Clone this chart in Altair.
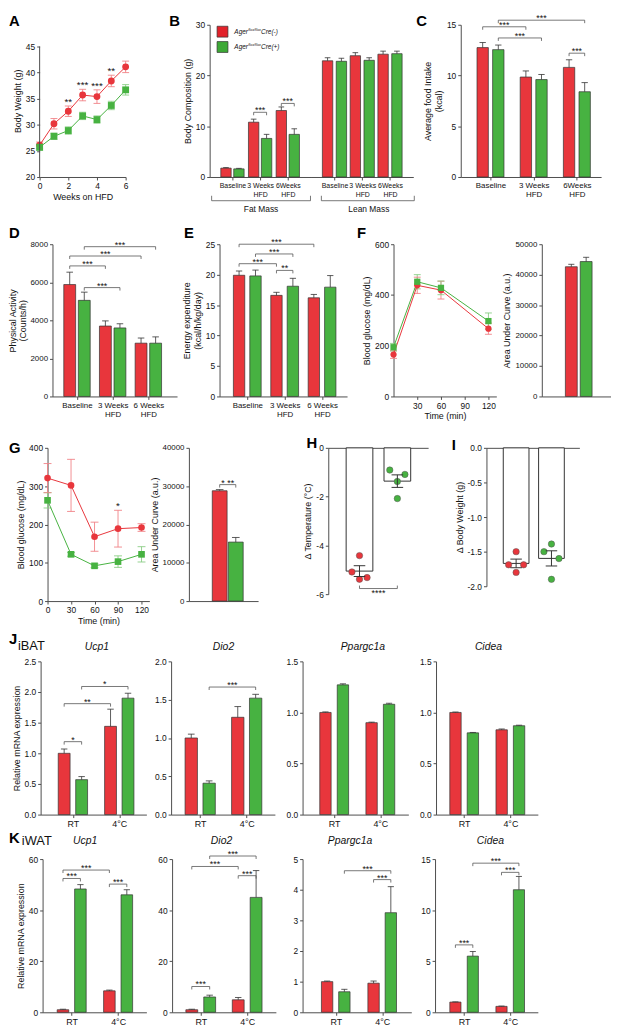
import json
import altair as alt
import pandas as pd

FONT = "Liberation Sans"
RED = "#e2222a"
RED_LIGHT = "#e9494f"
GREEN = "#3da936"
RED_LINE = "#e8363c"
GREEN_LINE = "#47b241"
RED_ERR = "#f08286"
GREEN_ERR = "#8acd84"
RED_DOT = "#ee1c25"
GREEN_DOT = "#2fb32f"
INK = "#333333"
BRK = "#555555"
AXC = "#4d4d4d"
GENO = ["Cre(-)", "Cre(+)"]

# ---------------- data ----------------
a_weeks = [0, 1, 2, 3, 4, 5, 6]
a_red = [26.1, 30.2, 32.6, 35.7, 35.4, 38.4, 41.1]
a_red_err = [0.6, 1.0, 1.0, 1.1, 1.3, 1.1, 1.1]
a_green = [25.7, 27.8, 28.9, 31.7, 31.0, 33.7, 36.7]
a_green_err = [0.6, 0.6, 0.7, 0.7, 0.7, 0.8, 1.0]
a_stars = ["", "", "**", "***", "***", "**", ""]

b_groups = ["Baseline", "3 Weeks|HFD", "6Weeks|HFD"]
b_fat_red = [1.75, 10.8, 13.1]
b_fat_red_err = [0.1, 0.6, 0.7]
b_fat_green = [1.6, 7.6, 8.4]
b_fat_green_err = [0.1, 0.8, 1.1]
b_lean_red = [22.9, 23.9, 24.2]
b_lean_red_err = [0.6, 0.6, 0.6]
b_lean_green = [22.8, 23.0, 24.3]
b_lean_green_err = [0.6, 0.5, 0.5]
b_fat_brackets = [("3 Weeks|HFD", "Cre(-)", "3 Weeks|HFD", "Cre(+)", 12.75, "***"),
                  ("6Weeks|HFD", "Cre(-)", "6Weeks|HFD", "Cre(+)", 14.5, "***")]

c_groups = ["Baseline", "3 Weeks|HFD", "6Weeks|HFD"]
c_red = [12.75, 9.85, 10.8]
c_red_err = [0.5, 0.6, 0.75]
c_green = [12.55, 9.6, 8.4]
c_green_err = [0.45, 0.5, 0.9]
c_brackets = [("Baseline", "Cre(+)", "6Weeks|HFD", "Cre(+)", 15.45, "***"),
              ("Baseline", "Cre(-)", "3 Weeks|HFD", "Cre(-)", 14.8, "***"),
              ("Baseline", "Cre(+)", "3 Weeks|HFD", "Cre(+)", 13.7, "***"),
              ("6Weeks|HFD", "Cre(-)", "6Weeks|HFD", "Cre(+)", 12.2, "***")]

d_groups = ["Baseline", "3 Weeks|HFD", "6 Weeks|HFD"]
d_red = [5880, 3700, 2800]
d_red_err = [650, 270, 270]
d_green = [5050, 3600, 2800]
d_green_err = [430, 220, 330]
d_brackets = [("Baseline", "Cre(+)", "6 Weeks|HFD", "Cre(+)", 7870, "***"),
              ("Baseline", "Cre(-)", "6 Weeks|HFD", "Cre(-)", 7380, "***"),
              ("Baseline", "Cre(-)", "3 Weeks|HFD", "Cre(-)", 6860, "***"),
              ("Baseline", "Cre(+)", "3 Weeks|HFD", "Cre(+)", 5720, "***")]

e_groups = ["Baseline", "3 Weeks|HFD", "6 Weeks|HFD"]
e_red = [19.9, 16.6, 16.2]
e_red_err = [0.7, 0.5, 0.55]
e_green = [19.8, 18.1, 17.95]
e_green_err = [0.95, 1.3, 1.9]
e_brackets = [("Baseline", "Cre(-)", "6 Weeks|HFD", "Cre(-)", 25.0, "***"),
              ("Baseline", "Cre(+)", "3 Weeks|HFD", "Cre(+)", 23.4, "***"),
              ("Baseline", "Cre(-)", "3 Weeks|HFD", "Cre(-)", 21.8, "***"),
              ("3 Weeks|HFD", "Cre(-)", "3 Weeks|HFD", "Cre(+)", 20.7, "**")]

f_time = [0, 30, 60, 120]
f_red = [165, 438, 419, 267]
f_red_err = [15, 32, 35, 22]
f_green = [194, 452, 428, 297]
f_green_err = [15, 28, 27, 32]
f_auc = [42600, 44300]
f_auc_err = [800, 1400]

g_time = [0, 30, 60, 90, 120]
g_red = [321, 302, 168, 189, 192]
g_red_err = [38, 68, 38, 48, 10]
g_green = [263, 122, 92, 103, 122]
g_green_err = [20, 5, 5, 15, 20]
g_stars = ["", "", "", "*", ""]
g_auc = [28800, 15400]
g_auc_err = [300, 1200]
g_auc_brackets = [("", "Cre(-)", "", "Cre(+)", 30400, "* **")]

h_red_dots = [-4.42, -5.09, -5.32, -5.39]
h_green_dots = [-0.91, -1.09, -1.38, -2.08]
i_red_dots = [-1.50, -1.69, -1.69, -1.80]
i_green_dots = [-1.39, -1.50, -1.60, -1.90]

conditions = ["RT", "4°C"]
j_ucp1 = ([1.00, 1.44], [0.07, 0.28], [0.57, 1.90], [0.05, 0.08])
j_dio2 = ([1.00, 1.27], [0.05, 0.14], [0.41, 1.52], [0.03, 0.05])
j_ppargc1a = ([1.00, 0.90], [0.005, 0.005], [1.27, 1.08], [0.01, 0.01])
j_cidea = ([1.00, 0.83], [0.004, 0.008], [0.80, 0.87], [0.004, 0.005])
j_ucp1_br = [("RT", "Cre(-)", "RT", "Cre(+)", 1.19, "*"),
             ("RT", "Cre(-)", "4°C", "Cre(-)", 1.81, "**"),
             ("RT", "Cre(+)", "4°C", "Cre(+)", 2.09, "*")]
j_dio2_br = [("RT", "Cre(+)", "4°C", "Cre(+)", 1.665, "***")]

k_ucp1 = ([1.0, 8.4], [0.2, 0.3], [48.3, 46.0], [1.7, 2.0])
k_dio2 = ([1.0, 4.9], [0.2, 0.9], [6.0, 45.0], [0.7, 10.5])
k_ppargc1a = ([1.0, 0.95], [0.02, 0.07], [0.67, 3.25], [0.08, 0.85])
k_cidea = ([1.0, 0.58], [0.02, 0.03], [5.5, 12.0], [0.45, 1.3])
k_ucp1_br = [("RT", "Cre(-)", "4°C", "Cre(-)", 55.7, "***"),
             ("RT", "Cre(-)", "RT", "Cre(+)", 52.4, "***"),
             ("4°C", "Cre(-)", "4°C", "Cre(+)", 50.2, "***")]
k_dio2_br = [("RT", "Cre(+)", "4°C", "Cre(+)", 61.2, "***"),
             ("RT", "Cre(-)", "4°C", "Cre(-)", 57.1, "***"),
             ("4°C", "Cre(-)", "4°C", "Cre(+)", 53.5, "***"),
             ("RT", "Cre(-)", "RT", "Cre(+)", 10.1, "***")]
k_ppargc1a_br = [("RT", "Cre(+)", "4°C", "Cre(+)", 4.62, "***"),
                 ("4°C", "Cre(-)", "4°C", "Cre(+)", 4.33, "***")]
k_cidea_br = [("RT", "Cre(+)", "4°C", "Cre(+)", 14.6, "***"),
              ("4°C", "Cre(-)", "4°C", "Cre(+)", 13.7, "***"),
              ("RT", "Cre(-)", "RT", "Cre(+)", 6.6, "***")]


# ---------------- helpers ----------------
def one():
    return pd.DataFrame({"z": [0]})


def txt(s, x, y, size=9, weight="normal", style="normal", align="center", baseline="middle", color="#111111"):
    return alt.Chart(pd.DataFrame({"t": [s]})).mark_text(
        fontSize=size, fontWeight=weight, fontStyle=style, align=align, baseline=baseline,
        color=color, font=FONT).encode(text="t:N", x=alt.value(x), y=alt.value(y))


def letter(s, x, y):
    return txt(s, x, y, size=15, weight="bold", align="left", baseline="top", color="black")


def prule(x, x2, y, y2, color=BRK):
    return alt.Chart(one()).mark_rule(color=color, strokeWidth=0.8).encode(
        x=alt.value(x), x2=alt.value(x2), y=alt.value(y), y2=alt.value(y2))


def spacer(w, h=10, top=0, bottom=0):
    return alt.Chart(one()).mark_rule(opacity=0, strokeOpacity=0).encode(
        x=alt.value(0), y=alt.value(-top), y2=alt.value(h + bottom)).properties(width=w, height=h)


def yaxis(vals, title, fmt="d", size=8.5, hyphen=False, domain=True, title_pad=3):
    kw = dict(values=vals, title=title, labelFontSize=size, titlePadding=title_pad)
    if hyphen:
        kw["labelExpr"] = "replace(format(datum.value, '%s'), '\u2212', '-')" % fmt
    else:
        kw["format"] = fmt
    if not domain:
        kw["domain"] = False
    return alt.Axis(**kw)


def posx(groups, gf, kf, offu):
    garr = json.dumps(groups, ensure_ascii=False)
    return f"indexof({garr}, datum.{gf}) + (datum.{kf} === 'Cre(-)' ? {-offu} : {offu})"


def bracket_layers(brackets, groups, offu, X, Y, tick_u, below=False, size=9):
    bdf = pd.DataFrame(brackets, columns=["g1", "k1", "g2", "k2", "y", "label"])
    sign = "+" if below else "-"
    bb = (alt.Chart(bdf)
          .transform_calculate(p1=posx(groups, "g1", "k1", offu))
          .transform_calculate(p2=posx(groups, "g2", "k2", offu))
          .transform_calculate(pm="(datum.p1 + datum.p2) / 2")
          .transform_calculate(ylo=f"datum.y {sign} {tick_u}"))
    h = bb.mark_rule(color=BRK, strokeWidth=0.8).encode(x=X("p1:Q"), x2="p2:Q", y=Y("y:Q"))
    l = bb.mark_rule(color=BRK, strokeWidth=0.8).encode(x=X("p1:Q"), y=Y("y:Q"), y2="ylo:Q")
    r = bb.mark_rule(color=BRK, strokeWidth=0.8).encode(x=X("p2:Q"), y=Y("y:Q"), y2="ylo:Q")
    if below:
        t = bb.mark_text(fontSize=size, baseline="top", dy=1, font=FONT, color="#111111").encode(
            x=X("pm:Q"), y=Y("y:Q"), text="label:N")
    else:
        t = bb.mark_text(fontSize=size, baseline="middle", dy=-2, font=FONT, color="#111111").encode(
            x=X("pm:Q"), y=Y("y:Q"), text="label:N")
    return [h, l, r, t]


def bar_panel(groups, red, red_err, green, green_err, W, H, c0, step, off, bw, ydom, yvals,
              ytitle=None, yfmt="d", brackets=(), xshow=True, yshow=True, xlabel_size=8,
              shade=None, extras=(), ylabel_size=8.5, title_pad=3):
    lo = -c0 / step
    hi = (W - c0) / step
    offu = off / step
    capu = 0.3 * bw / step
    rows = []
    for gi, g in enumerate(groups):
        rows.append(dict(group=g, geno=GENO[0], value=red[gi], err=red_err[gi]))
        rows.append(dict(group=g, geno=GENO[1], value=green[gi], err=green_err[gi]))
    df = pd.DataFrame(rows)
    if shade:
        ckey = "(datum.group === %s && datum.geno === 'Cre(-)') ? 'Cre(-)*' : datum.geno" % json.dumps(shade)
    else:
        ckey = "datum.geno"
    base = (alt.Chart(df)
            .transform_calculate(pos=posx(groups, "group", "geno", offu))
            .transform_calculate(top="datum.value + datum.err", ckey=ckey)
            .transform_calculate(cl=f"datum.pos - {capu}", cr=f"datum.pos + {capu}"))
    xs = alt.Scale(domain=[lo, hi], nice=False, zero=False)
    ys = alt.Scale(domain=ydom, nice=False, zero=False)
    if xshow:
        arr = json.dumps(groups, ensure_ascii=False)
        xax = alt.Axis(values=list(range(len(groups))), title=None, labelFontSize=xlabel_size,
                       labelExpr=f"split({arr}[round(datum.value)], '|')", labelLineHeight=9)
    else:
        xax = alt.Axis(labels=False, ticks=False, title=None)
    yax = yaxis(yvals, ytitle, yfmt, size=ylabel_size, title_pad=title_pad) if yshow else None
    cscale = alt.Scale(domain=GENO + ["Cre(-)*"], range=[RED, GREEN, RED_LIGHT])
    X = lambda f: alt.X(f, scale=xs, axis=xax)
    Y = lambda f: alt.Y(f, scale=ys, axis=yax)
    bars = base.mark_bar(width=bw, stroke=INK, strokeWidth=0.7, orient="vertical").encode(
        x=X("pos:Q"), y=Y("value:Q"), y2=alt.datum(0),
        color=alt.Color("ckey:N", scale=cscale, legend=None))
    err = base.mark_rule(color=INK, strokeWidth=0.8).encode(x=X("pos:Q"), y=Y("value:Q"), y2="top:Q")
    cap = base.mark_rule(color=INK, strokeWidth=0.8).encode(x=X("cl:Q"), x2="cr:Q", y=Y("top:Q"))
    layers = [bars, err, cap]
    if brackets:
        tick_u = 3 * (ydom[1] - ydom[0]) / H
        layers += bracket_layers(brackets, groups, offu, X, Y, tick_u)
    layers += list(extras)
    return alt.layer(*layers).properties(width=W, height=H)


def line_panel(times, red, red_err, green, green_err, W, H, xdom, xvals, ydom, yvals, xtitle, ytitle,
               stars=None, axis_span=None, psize=40, cap_px=3.5, extras=()):
    rows = []
    for i, t in enumerate(times):
        rows.append({"time": t, "geno": GENO[0], "value": red[i], "err": red_err[i],
                     "star": stars[i] if stars else ""})
        rows.append({"time": t, "geno": GENO[1], "value": green[i], "err": green_err[i], "star": ""})
    df = pd.DataFrame(rows)
    capu = cap_px * (xdom[1] - xdom[0]) / W
    base = (alt.Chart(df)
            .transform_calculate(lo="datum.value - datum.err", hi="datum.value + datum.err")
            .transform_calculate(cl=f"datum.time - {capu}", cr=f"datum.time + {capu}"))
    xs = alt.Scale(domain=xdom, nice=False, zero=False)
    ys = alt.Scale(domain=ydom, nice=False, zero=False)
    xax = alt.Axis(values=xvals, title=xtitle, format="d", titlePadding=2)
    yax = yaxis(yvals, ytitle, "d", domain=axis_span is None)
    ecs = alt.Scale(domain=GENO, range=[RED_ERR, GREEN_ERR])
    cs = alt.Scale(domain=GENO, range=[RED_LINE, GREEN_LINE])
    X = lambda f: alt.X(f, scale=xs, axis=xax)
    Y = lambda f: alt.Y(f, scale=ys, axis=yax)
    stroke = alt.Stroke("geno:N", scale=ecs, legend=None)
    err_v = base.mark_rule(strokeWidth=0.9).encode(x=X("time:Q"), y=Y("lo:Q"), y2="hi:Q", stroke=stroke)
    cap_t = base.mark_rule(strokeWidth=0.9).encode(x=X("cl:Q"), x2="cr:Q", y=Y("hi:Q"), stroke=stroke)
    cap_b = base.mark_rule(strokeWidth=0.9).encode(x=X("cl:Q"), x2="cr:Q", y=Y("lo:Q"), stroke=stroke)
    line = base.mark_line(strokeWidth=1).encode(
        x=X("time:Q"), y=Y("value:Q"), color=alt.Color("geno:N", scale=cs, legend=None))
    pts = base.mark_point(filled=True, opacity=1, size=psize).encode(
        x=X("time:Q"), y=Y("value:Q"), color=alt.Color("geno:N", scale=cs, legend=None),
        shape=alt.Shape("geno:N", scale=alt.Scale(domain=GENO, range=["circle", "square"]), legend=None))
    layers = [err_v, cap_t, cap_b, line, pts]
    if stars:
        layers.append(base.transform_filter("datum.star != ''").mark_text(
            fontSize=10, baseline="middle", dy=-4, font=FONT, color="#111111").encode(
            x=X("time:Q"), y=Y("hi:Q"), text="star:N"))
    if axis_span:
        layers.append(alt.Chart(one()).mark_rule(color=AXC, strokeWidth=1).encode(
            x=alt.value(0), y=alt.Y(datum=axis_span[0], scale=ys, axis=yax), y2=alt.datum(axis_span[1])))
    layers += list(extras)
    return alt.layer(*layers).properties(width=W, height=H)


def beeswarm(vals, ppu, d=7.5):
    order = sorted(range(len(vals)), key=lambda i: -vals[i])
    clusters = []
    for i in order:
        if clusters and abs(vals[clusters[-1][-1]] - vals[i]) * ppu < d:
            clusters[-1].append(i)
        else:
            clusters.append([i])
    pattern = {1: [0], 2: [-1, 1], 3: [-1, 1, 0], 4: [-1.5, -0.5, 0.5, 1.5]}
    lanes = [0] * len(vals)
    for c in clusters:
        for j, i in enumerate(c):
            lanes[i] = pattern[len(c)][j]
    return lanes


def dot_panel(red_dots, green_dots, W, H, mid_px, sep_px, bw, ydom, yvals, ytitle, fmt,
              brackets=(), cap_px=13, lane_px=8.5, extras=()):
    ppu = H / (ydom[1] - ydom[0])
    rows = []
    for geno, dots in zip(GENO, [red_dots, green_dots]):
        for v, ln in zip(dots, beeswarm(dots, ppu)):
            rows.append({"geno": geno, "value": v, "lane": ln})
    df = pd.DataFrame(rows)
    lo = -mid_px / sep_px
    hi = (W - mid_px) / sep_px
    laneu = lane_px / sep_px
    capu = cap_px / 2 / sep_px
    xs = alt.Scale(domain=[lo, hi], nice=False, zero=False)
    ys = alt.Scale(domain=ydom, nice=False, zero=False)
    xax = alt.Axis(orient="top", labels=False, ticks=False, title=None)
    yax = yaxis(yvals, ytitle, fmt, hyphen=True)
    X = lambda f: alt.X(f, scale=xs, axis=xax)
    Y = lambda f: alt.Y(f, scale=ys, axis=yax)
    gpos = "(datum.geno === 'Cre(-)' ? -0.5 : 0.5)"
    base = alt.Chart(df)
    agg = (base.transform_aggregate(mean="mean(value)", se="stderr(value)", groupby=["geno"])
           .transform_calculate(pos=gpos)
           .transform_calculate(lo="datum.mean - datum.se", hi="datum.mean + datum.se",
                                cl=f"datum.pos - {capu}", cr=f"datum.pos + {capu}"))
    bars = agg.mark_bar(width=bw, fill="white", stroke=INK, strokeWidth=1, orient="vertical").encode(
        x=X("pos:Q"), y=Y("mean:Q"), y2=alt.datum(0))
    dots = base.transform_calculate(px=f"{gpos} + datum.lane * {laneu}").mark_circle(
        size=42, opacity=1, stroke="#555555", strokeWidth=0.5).encode(
        x=X("px:Q"), y=Y("value:Q"),
        color=alt.Color("geno:N", scale=alt.Scale(domain=GENO, range=[RED_DOT, GREEN_DOT]), legend=None))
    err = agg.mark_rule(color=INK, strokeWidth=1).encode(x=X("pos:Q"), y=Y("lo:Q"), y2="hi:Q")
    cap_t = agg.mark_rule(color=INK, strokeWidth=1).encode(x=X("cl:Q"), x2="cr:Q", y=Y("hi:Q"))
    cap_b = agg.mark_rule(color=INK, strokeWidth=1).encode(x=X("cl:Q"), x2="cr:Q", y=Y("lo:Q"))
    layers = [bars, dots, err, cap_t, cap_b]
    if brackets:
        tick_u = 3 * (ydom[1] - ydom[0]) / H
        layers += bracket_layers(brackets, [""], 0.5, X, Y, tick_u, below=True)
    layers += list(extras)
    return alt.layer(*layers).properties(width=W, height=H)


def legend_row(y, color, label):
    return [
        alt.Chart(one()).mark_square(size=121, fill=color, stroke=INK, strokeWidth=0.7, opacity=1).encode(
            x=alt.value(13), y=alt.value(y)),
        txt("Ager", 25, y, size=6.5, style="italic", align="left"),
        txt("flox/flox", 39, y - 2, size=3.8, style="italic", align="left"),
        txt(label, 52, y, size=6.5, style="italic", align="left"),
    ]


# ---------------- row 1 ----------------
H1 = 154
pA = line_panel(a_weeks, a_red, a_red_err, a_green, a_green_err, 87, H1, [0, 6], [0, 2, 4, 6],
                [20, 20 + H1 / 5.28], [20, 25, 30, 35, 40, 45], "Weeks on HFD", "Body Weight (g)",
                stars=a_stars, axis_span=(20, 45), psize=48,
                extras=[letter("A", -31, -11)])
pBf = bar_panel(b_groups, b_fat_red, b_fat_red_err, b_fat_green, b_fat_green_err, 103, H1,
                20, 31, 7.25, 10.5, [0, 30], [0, 10, 20, 30], ytitle="Body Composition (g)",
                brackets=b_fat_brackets, xlabel_size=7,
                extras=[letter("B", -41, -11)] + legend_row(7, RED, "Cre(-)") + legend_row(22.5, GREEN, "Cre(+)") + [
                    prule(2, 102, H1 + 24, H1 + 24), prule(2, 2, H1 + 19, H1 + 24), prule(102, 102, H1 + 19, H1 + 24),
                    txt("Fat Mass", 52, H1 + 32, size=8.5)])
pBl = bar_panel(b_groups, b_lean_red, b_lean_red_err, b_lean_green, b_lean_green_err, 103, H1,
                20.25, 31.1, 7.75, 10.5, [0, 30], [0, 10, 20, 30], yshow=False, shade="3 Weeks|HFD",
                xlabel_size=7,
                extras=[prule(10, 104, H1 + 24, H1 + 24), prule(10, 10, H1 + 19, H1 + 24),
                        prule(104, 104, H1 + 19, H1 + 24), txt("Lean Mass", 58, H1 + 32, size=8.5)])
pC = bar_panel(c_groups, c_red, c_red_err, c_green, c_green_err, 142, H1, 27, 47, 8.5, 11.5,
               [0, 15], [0, 5, 10, 15], ytitle=["Average food Intake", "(kcal)"], brackets=c_brackets,
               extras=[letter("C", -45, -11)])
row1 = alt.hconcat(spacer(31, H1, 11, 40), pA, spacer(85), pBf, pBl, spacer(48), pC,
                   spacing=0, bounds="flush")

# ---------------- row 2 ----------------
H2 = 154
pD = bar_panel(d_groups, d_red, d_red_err, d_green, d_green_err, 126, H2, 21.5, 39.2, 8, 12,
               [0, 8000], [0, 2000, 4000, 6000, 8000], ytitle=["Physical Activity", "(Counts/h)"],
               brackets=d_brackets, ylabel_size=8, title_pad=2, extras=[letter("D", -44, -18)])
pE = bar_panel(e_groups, e_red, e_red_err, e_green, e_green_err, 129, H2, 25, 41, 9, 11.5,
               [0, 25], [0, 5, 10, 15, 20, 25], ytitle=["Energy expenditure", "(kcal/h/kg/day)"],
               brackets=e_brackets, extras=[letter("E", -36, -18)])
pF = line_panel(f_time, f_red, f_red_err, f_green, f_green_err, 104, H2, [0, 130], [30, 60, 90, 120],
                [0, 600], [0, 200, 400, 600], "Time (min)", "Blood glucose (mg/dL)", psize=40,
                extras=[letter("F", -37, -18)])
pFr = bar_panel([""], [f_auc[0]], [f_auc_err[0]], [f_auc[1]], [f_auc_err[1]], 70, H2, 37.75, 40, 8.75, 12,
                [0, 50000], [0, 10000, 20000, 30000, 40000, 50000], ytitle="Area Under Curve (a.u.)",
                xshow=False, ylabel_size=8)
row2 = alt.hconcat(spacer(44, H2, 28, 30), pD, spacer(43), pE, spacer(47), pF, spacer(46), pFr,
                   spacing=0, bounds="flush")

# ---------------- row 3 ----------------
pG = line_panel(g_time, g_red, g_red_err, g_green, g_green_err, 103, 155, [0, 130], [0, 30, 60, 90, 120],
                [0, 400], [0, 100, 200, 300, 400], "Time (min)", "Blood glucose (mg/dL)",
                stars=g_stars, psize=45, cap_px=4, extras=[letter("G", -39, -7)])
pGr = bar_panel([""], [g_auc[0]], [g_auc_err[0]], [g_auc[1]], [g_auc_err[1]], 70, 155, 40, 40, 9.5, 15,
                [0, 40000], [0, 10000, 20000, 30000, 40000], ytitle="Area Under Curve (a.u.)",
                xshow=False, brackets=g_auc_brackets, ylabel_size=8)
pH = dot_panel(h_red_dots, h_green_dots, 101, 148, 50.75, 42.5, 27, [-6, 0], [-6, -4, -2, 0],
               "Δ Temperature (°C)", "d", brackets=[("", "Cre(-)", "", "Cre(+)", -5.77, "****")],
               extras=[letter("H", -22, -12)])
pI = dot_panel(i_red_dots, i_green_dots, 94, 140, 48, 40, 26, [-2, 0], [-2, -1.5, -1, -0.5, 0],
               "Δ Body Weight (g)", ".1f", extras=[letter("I", -35, -10)])
row3 = alt.hconcat(spacer(39, 155, 22, 28), pG, spacer(40), pGr, spacer(71), pH, spacer(59), pI,
                   spacing=0, bounds="flush")


# ---------------- rows 4 & 5 ----------------
def gene_panel(vals, W, c0, step, off, bw, ydom, yvals, yfmt, title, tx, ty, brackets=(), ytitle=None,
               extras=()):
    red, red_err, green, green_err = vals
    return bar_panel(conditions, red, red_err, green, green_err, W, 155, c0, step, off, bw, ydom, yvals,
                     ytitle=ytitle, yfmt=yfmt, brackets=brackets, xlabel_size=9,
                     extras=[txt(title, tx, ty, size=10.5, style="italic")] + list(extras))


f1 = ".1f"
jU = gene_panel(j_ucp1, 107, 30.5, 51.75, 9.75, 12, [0, 2.5], [0, 0.5, 1, 1.5, 2, 2.5], f1, "Ucp1", 57, -15,
                brackets=j_ucp1_br, ytitle="Relative mRNA expression",
                extras=[letter("J", -32, -30), txt("iBAT", -23, -15, size=13, align="left")])
jD = gene_panel(j_dio2, 105, 27, 52, 10, 12.5, [0, 2.0], [0, 0.5, 1, 1.5, 2], f1, "Dio2", 53, -15,
                brackets=j_dio2_br)
jP = gene_panel(j_ppargc1a, 107, 29.75, 51.5, 9.75, 11.5, [0, 1.5], [0, 0.5, 1, 1.5], f1, "Ppargc1a", 61, -15)
jC = gene_panel(j_cidea, 103, 26, 51.75, 9.75, 11.5, [0, 1.5], [0, 0.5, 1, 1.5], f1, "Cidea", 53, -15)
row4 = alt.hconcat(spacer(32, 155, 33, 16), jU, spacer(25), jD, spacer(28), jP, spacer(28), jC,
                   spacing=0, bounds="flush")

kU = gene_panel(k_ucp1, 105, 27, 51.9, 9.75, 11.7, [0, 60], [0, 20, 40, 60], "d", "Ucp1", 43, -18,
                brackets=k_ucp1_br, ytitle="Relative mRNA expression",
                extras=[letter("K", -34, -28), txt("iWAT", -21, -18, size=13, align="left")])
kD = gene_panel(k_dio2, 105, 26.5, 51.9, 10, 12, [0, 60], [0, 20, 40, 60], "d", "Dio2", 50, -18,
                brackets=k_dio2_br)
kP = gene_panel(k_ppargc1a, 110, 31.4, 51.7, 9.6, 11.5, [0, 5], [0, 1, 2, 3, 4, 5], "d", "Ppargc1a", 48, -18,
                brackets=k_ppargc1a_br)
kC = gene_panel(k_cidea, 104, 27, 51.6, 9.75, 11.3, [0, 15], [0, 5, 10, 15], "d", "Cidea", 56, -18,
                brackets=k_cidea_br)
row5 = alt.hconcat(spacer(34, 155, 29, 16), kU, spacer(26), kD, spacer(27), kP, spacer(24), kC,
                   spacing=0, bounds="flush")

chart = (alt.vconcat(row1, row2, row3, row4, row5, spacing=0)
         .properties(padding=0)
         .configure(font=FONT)
         .configure_view(stroke=None)
         .configure_axis(labelFont=FONT, titleFont=FONT, labelFontSize=8.5, titleFontSize=9,
                         titleFontWeight="normal", labelColor="#111111", titleColor="#111111",
                         domainColor=AXC, tickColor=AXC, domainWidth=1, tickWidth=1, tickSize=3,
                         labelPadding=2, titlePadding=3, grid=False, labelFlush=False,
                         labelOverlap=False))

chart.save("out.html", embed_options={"renderer": "svg", "actions": False})
